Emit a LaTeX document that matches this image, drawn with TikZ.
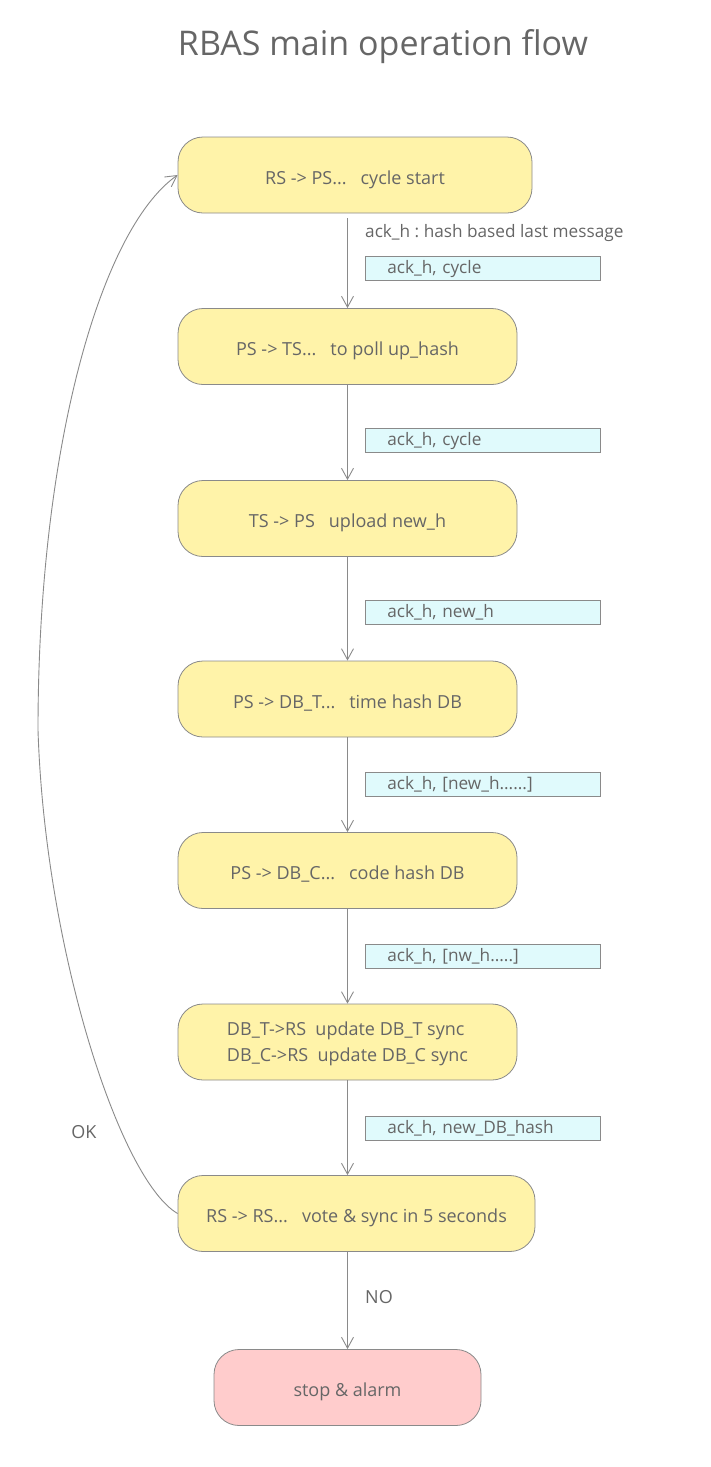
\documentclass[tikz,border=0pt]{standalone}
\usepackage{fontspec}
\setmainfont{Open Sans}
\usetikzlibrary{arrows.meta}
\definecolor{txt}{HTML}{666666}
\definecolor{edge}{HTML}{8A8A8A}
\definecolor{yel}{HTML}{FFF3A9}
\definecolor{pinkf}{HTML}{FFCCCC}
\definecolor{cyanf}{HTML}{E0FAFC}
\frenchspacing
\begin{document}
\begin{tikzpicture}[x=1pt,y=-1pt,
  every node/.style={text=txt},
  state/.style={draw=edge, fill=yel, rounded corners=25pt, minimum height=76pt, line width=0.8pt, font=\fontsize{18}{26}\selectfont, text height=18pt, text depth=0pt},
  lab/.style={draw=edge, fill=cyanf, line width=0.8pt, minimum height=24pt, inner ysep=0pt, inner xsep=22pt, text width=191pt, align=left, anchor=north west, font=\fontsize{17.2}{20}\selectfont, text height=14pt, text depth=3pt},
  plain/.style={font=\fontsize{17.2}{20}\selectfont, inner sep=0pt},
  flow/.style={draw=edge, line width=0.9pt, -{Straight Barb[length=11pt,width=12pt]}}]
\useasboundingbox (0,0) rectangle (710,1467);
\node[font=\fontsize{34}{40}\selectfont] (title) at (383,47) {RBAS main operation flow};

\node[state, minimum width=354pt] (n1) at (355,175) {RS -> PS...\ \ \ cycle start};
\node[state, minimum width=339pt] (n2) at (347.5,346.5) {PS -> TS...\ \ \ to poll up\_hash};
\node[state, minimum width=339pt] (n3) at (347.5,518.5) {TS -> PS\ \ \ upload new\_h};
\node[state, minimum width=339pt] (n4) at (347.5,699) {PS -> DB\_T...\ \ \ time hash DB};
\node[state, minimum width=339pt] (n5) at (347.5,870.5) {PS -> DB\_C...\ \ \ code hash DB};
\node[state, minimum width=339pt, align=left, text height=, text depth=] (n6) at (347.5,1042) {\rule{0pt}{17pt}DB\_T->RS\ \ update DB\_T sync\\DB\_C->RS\ \ update DB\_C sync};
\node[state, minimum width=357pt] (n7) at (356.5,1213.5) {RS -> RS...\ \ \ vote \& sync in 5 seconds};
\node[state, fill=pinkf, minimum width=267pt] (n8) at (347.5,1387.5) {stop \& alarm};

\node[plain, anchor=west] (t1) at (365,233) {ack\_h : hash based last message};
\node[lab] (l1) at (365,256) {ack\_h, cycle};
\node[lab] (l2) at (365,428) {ack\_h, cycle};
\node[lab] (l3) at (365,600) {ack\_h, new\_h};
\node[lab] (l4) at (365,772) {ack\_h, [new\_h......]};
\node[lab] (l5) at (365,944) {ack\_h, [nw\_h.....]};
\node[lab] (l6) at (365,1116) {ack\_h, new\_DB\_hash};
\node[plain, anchor=west, font=\fontsize{18}{20}\selectfont] (no) at (365,1297) {NO};
\node[plain, font=\fontsize{18}{20}\selectfont] (ok) at (84,1132) {OK};

\draw[flow] ([yshift=-5pt]n1.south -| n2.north) -- (n2.north);
\draw[flow] (n2.south) -- (n3.north);
\draw[flow] (n3.south) -- (n4.north);
\draw[flow] (n4.south) -- (n5.north);
\draw[flow] (n5.south) -- (n6.north);
\draw[flow] (n6.south) -- (n7.north -| n6.south);
\draw[flow] (n7.south -| n8.north) -- (n8.north);

\coordinate (bend) at (38,730);
\draw[flow] (n7.west) .. controls (120,1180) and (45,950) .. (bend) .. controls (38,450) and (100,230) .. (n1.west);
\end{tikzpicture}
\end{document}
